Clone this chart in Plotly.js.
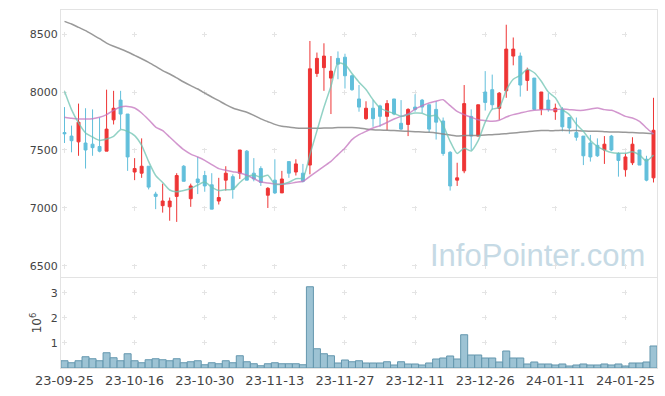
<!DOCTYPE html>
<html><head><meta charset="utf-8">
<script src="https://cdn.plot.ly/plotly-3.0.1.min.js"></script>
<style>html,body{margin:0;padding:0;background:#fff}#chart{width:665px;height:396px}</style>
</head><body><div id="chart"></div>
<script>
const dates = [
 "23-09-25","23-09-26","23-09-27","23-10-04","23-10-05","23-10-06","23-10-10","23-10-11","23-10-12","23-10-13",
 "23-10-16","23-10-17","23-10-18","23-10-19","23-10-20","23-10-23","23-10-24","23-10-25","23-10-26","23-10-27",
 "23-10-30","23-10-31","23-11-01","23-11-02","23-11-03","23-11-06","23-11-07","23-11-08","23-11-09","23-11-10",
 "23-11-13","23-11-14","23-11-15","23-11-16","23-11-17","23-11-20","23-11-21","23-11-22","23-11-23","23-11-24",
 "23-11-27","23-11-28","23-11-29","23-11-30","23-12-01","23-12-04","23-12-05","23-12-06","23-12-07","23-12-08",
 "23-12-11","23-12-12","23-12-13","23-12-14","23-12-15","23-12-18","23-12-19","23-12-20","23-12-21","23-12-22",
 "23-12-26","23-12-27","23-12-28","24-01-02","24-01-03","24-01-04","24-01-05","24-01-08","24-01-09","24-01-10",
 "24-01-11","24-01-12","24-01-15","24-01-16","24-01-17","24-01-18","24-01-19","24-01-22","24-01-23","24-01-24",
 "24-01-25","24-01-26","24-01-29","24-01-30","24-01-31"];
const tickDates = ["23-09-25","23-10-16","23-10-30","23-11-13","23-11-27","23-12-11","23-12-26","24-01-11","24-01-25"];

const openP = [
 7650,7620,7570,7560,7550,7530,7490,7760,7930,7810,
 7310,7300,7360,7120,7020,7010,7100,7360,7080,7250,
 7280,7200,7060,7240,7270,7300,7490,7300,7340,7110,
 7240,7130,7400,7310,7300,7370,8160,8210,8120,8290,
 8300,8140,7940,7770,7860,7880,7790,7940,7730,7720,
 7870,7930,7890,7850,7750,7480,7240,7320,7790,7620,
 8000,8020,7860,8010,8310,8310,8100,8120,7850,7930,
 7830,7850,7780,7650,7620,7560,7540,7500,7620,7470,
 7330,7390,7500,7420,7260];
const highP = [
 7870,7710,7900,7860,7850,7780,8020,8010,8010,7810,
 7430,7600,7360,7140,7210,7090,7300,7370,7210,7440,
 7320,7300,7260,7360,7290,7500,7500,7430,7360,7180,
 7420,7320,7400,7420,7380,8440,8340,8420,8310,8350,
 8330,8150,8060,7920,7930,7890,7930,7940,7930,7860,
 7980,7940,7890,7920,7780,7490,7390,8060,7850,7890,
 8180,8150,8000,8580,8470,8340,8210,8120,8000,7990,
 7900,7870,7780,7780,7620,7630,7600,7620,7630,7480,
 7470,7610,7500,7450,7950];
const lowP = [
 7560,7480,7450,7340,7450,7480,7490,7720,7680,7320,
 7240,7260,7160,6990,6960,6890,6880,7230,7010,7120,
 7140,6990,7030,7150,7080,7250,7240,7230,7190,7000,
 7120,7130,7260,7280,7220,7290,8130,8010,7810,8110,
 8030,8010,7830,7760,7700,7700,7670,7800,7670,7620,
 7830,7820,7650,7590,7450,7150,7190,7300,7500,7620,
 7840,7850,7760,7950,8230,7960,8010,7850,7800,7830,
 7760,7660,7640,7580,7370,7400,7440,7380,7490,7270,
 7270,7370,7370,7230,7220];
const closeP = [
 7640,7580,7740,7500,7520,7490,7680,7860,7810,7440,
 7340,7360,7180,7100,7060,7060,7280,7230,7190,7220,
 7190,6990,7090,7300,7160,7500,7240,7250,7220,7170,
 7130,7250,7300,7380,7230,8200,8290,8310,8180,8240,
 8140,8020,7870,7860,7770,7790,7900,7810,7680,7850,
 7850,7870,7680,7740,7470,7190,7260,7900,7620,7890,
 7910,7890,7990,8370,8370,8060,8190,7850,8000,7850,
 7860,7700,7690,7610,7450,7440,7450,7550,7500,7410,
 7440,7550,7370,7240,7670];
const ma5 = [
 8006,7848,7733,7647,7612,7583,7595,7618,7675,7661,
 7624,7540,7400,7280,7220,7155,7140,7150,7168,7198,
 7223,7180,7150,7158,7160,7220,7268,7285,7265,7282,
 7206,7205,7222,7252,7258,7460,7665,7868,8050,8250,
 8235,8160,8085,8022,7933,7862,7835,7815,7790,7805,
 7818,7816,7792,7798,7712,7575,7470,7515,7492,7580,
 7740,7852,7866,8015,8110,8143,8195,8166,8093,8000,
 7950,7850,7805,7722,7661,7582,7530,7500,7478,7472,
 7472,7484,7457,7405,7456];
const ma20 = [
 7782,7773,7767,7767,7770,7782,7805,7842,7871,7876,
 7862,7819,7761,7698,7667,7612,7555,7503,7465,7440,
 7411,7374,7339,7325,7313,7302,7282,7253,7224,7216,
 7207,7204,7210,7221,7230,7273,7316,7359,7402,7460,
 7517,7589,7632,7661,7690,7710,7738,7767,7790,7810,
 7853,7882,7905,7920,7934,7882,7833,7805,7782,7761,
 7753,7747,7756,7784,7805,7819,7833,7842,7848,7848,
 7848,7853,7848,7842,7842,7853,7862,7848,7842,7819,
 7790,7776,7747,7690,7638];
const ma60 = [
 8609,8586,8557,8529,8494,8460,8422,8394,8371,8345,
 8316,8287,8256,8221,8184,8155,8121,8086,8055,8026,
 7991,7957,7925,7891,7862,7842,7825,7799,7768,7744,
 7721,7704,7698,7690,7687,7687,7687,7690,7690,7693,
 7693,7693,7690,7681,7675,7672,7670,7667,7664,7661,
 7658,7655,7652,7647,7638,7629,7621,7624,7624,7626,
 7629,7632,7635,7641,7647,7652,7658,7664,7667,7667,
 7667,7670,7667,7667,7664,7661,7661,7658,7655,7655,
 7652,7650,7647,7644,7641];
const volume = [
 290000,210000,290000,450000,370000,290000,610000,410000,290000,570000,
 290000,210000,330000,370000,330000,290000,370000,210000,250000,290000,
 130000,210000,170000,290000,210000,490000,250000,170000,90000,170000,
 210000,170000,170000,170000,130000,3250000,770000,570000,490000,200000,
 320000,250000,290000,200000,200000,200000,250000,120000,250000,160000,
 160000,120000,200000,360000,400000,480000,360000,1330000,520000,520000,
 400000,400000,240000,680000,400000,400000,160000,240000,160000,160000,
 120000,160000,80000,120000,160000,120000,120000,160000,120000,160000,
 80000,200000,200000,240000,880000];
const priceTicks = [6500,7000,7500,8000,8500];
const volTicks = [1000000,2000000,3000000];
const volTickText = ["1","2","3"];

const upColor = '#ee3535', downColor = '#62bfdb';
const traces = [
 {type:'candlestick', x:dates, open:openP, high:highP, low:lowP, close:closeP,
  xaxis:'x', yaxis:'y', whiskerwidth:0, hoverinfo:'skip', showlegend:false,
  increasing:{line:{color:upColor,width:1}, fillcolor:upColor},
  decreasing:{line:{color:downColor,width:1}, fillcolor:downColor}},
 {type:'scatter', mode:'lines', x:dates, y:ma60, xaxis:'x', yaxis:'y', hoverinfo:'skip',
  line:{color:'rgba(135,135,135,0.85)', width:1.5, shape:'spline', smoothing:0.6}},
 {type:'scatter', mode:'lines', x:dates, y:ma20, xaxis:'x', yaxis:'y', hoverinfo:'skip',
  line:{color:'rgba(195,115,190,0.75)', width:1.5, shape:'spline', smoothing:0.6}},
 {type:'scatter', mode:'lines', x:dates, y:ma5, xaxis:'x', yaxis:'y', hoverinfo:'skip',
  line:{color:'rgba(110,195,178,0.75)', width:1.5, shape:'spline', smoothing:0.6}},
 {type:'bar', x:dates, y:volume, xaxis:'x2', yaxis:'y2', hoverinfo:'skip',
  marker:{color:'#9dc3d4', line:{color:'#6497ae', width:1}}}
];

const gridC = '#e4e4e4', lineC = '#e3e3e3';
const layout = {
 width:665, height:396, margin:{l:61, r:8, t:10, b:28},
 paper_bgcolor:'#ffffff', plot_bgcolor:'#ffffff', showlegend:false,
 boxgap:0.4, bargap:0,
 font:{family:'DejaVu Sans, sans-serif', color:'#444'},
 xaxis:{type:'category', anchor:'y', domain:[0,1], range:[-0.5,84.5],
  tickmode:'array', tickvals:tickDates, showticklabels:false, ticks:'',
  showgrid:true, gridcolor:gridC, griddash:'0px,21.5px,5px,31.5px',
  showline:true, mirror:true, linecolor:lineC, zeroline:false,
  rangeslider:{visible:false}, fixedrange:true},
 yaxis:{domain:[0.2542,1], range:[6405,8707], tickmode:'array', tickvals:priceTicks,
  tickfont:{size:11, color:'#444'}, ticks:'', showgrid:true, gridcolor:gridC, griddash:'0px,1px,5px,64px',
  showline:true, mirror:true, linecolor:lineC, zeroline:false, fixedrange:true},
 xaxis2:{type:'category', anchor:'y2', domain:[0,1], range:[-0.5,84.5],
  tickmode:'array', tickvals:tickDates, tickfont:{size:13, color:'#444'}, ticks:'',
  showgrid:true, gridcolor:gridC, griddash:'0px,12.5px,5px,7.5px',
  showline:true, mirror:true, linecolor:lineC, zeroline:false, fixedrange:true},
 yaxis2:{domain:[0,0.2514], range:[0,3600000], tickmode:'array', tickvals:volTicks, ticktext:volTickText,
  tickfont:{size:11, color:'#444'}, ticks:'', showgrid:true, gridcolor:gridC, griddash:'0px,1px,5px,64px',
  showline:true, mirror:true, linecolor:lineC, zeroline:false, fixedrange:true,
  title:{text:'10<sup>6</sup>', font:{size:12, color:'#444'}, standoff:6}},
 annotations:[{text:'InfoPointer.com', xref:'paper', yref:'paper', x:0.80, y:0.313,
  xanchor:'center', yanchor:'middle', showarrow:false,
  font:{family:'Liberation Sans, Arial, sans-serif', size:31, color:'#c6dae5'}}]
};
Plotly.newPlot('chart', traces, layout, {displayModeBar:false, staticPlot:true});
</script></body></html>
